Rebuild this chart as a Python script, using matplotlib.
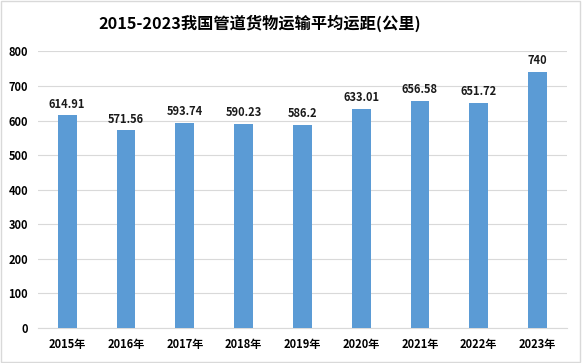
import matplotlib
matplotlib.use("Agg")
import matplotlib.pyplot as plt
from matplotlib.patches import Rectangle

plt.rcParams['font.family'] = ['Noto Sans CJK SC', 'DejaVu Sans']

years = ["2015年", "2016年", "2017年", "2018年", "2019年", "2020年", "2021年", "2022年", "2023年"]
values = [614.91, 571.56, 593.74, 590.23, 586.2, 633.01, 656.58, 651.72, 740]
labels = ["614.91", "571.56", "593.74", "590.23", "586.2", "633.01", "656.58", "651.72", "740"]
yticks = [0, 100, 200, 300, 400, 500, 600, 700, 800]

fig = plt.figure(figsize=(5.82, 3.63), dpi=100)
ax = fig.add_axes([0.065, 0.0964, 0.909, 0.762])

x = list(range(len(years)))
ax.bar(x, values, width=0.32, color="#5B9BD5", zorder=3)
for xi, v, t in zip(x, values, labels):
    ax.text(xi, v + 14, t, ha="center", va="bottom", fontsize=8, fontweight="bold", color="#1a1a1a")

ax.set_xlim(-0.5, len(years) - 0.5)
ax.set_ylim(0, 800)
ax.set_yticks(yticks)
ax.set_xticks(x)
ax.set_xticklabels(years, fontsize=8, fontweight="bold")
ax.tick_params(axis="y", labelsize=8, length=0, pad=7)
ax.tick_params(axis="x", length=0, pad=7)
for lab in ax.get_yticklabels():
    lab.set_fontweight("bold")
ax.grid(axis="y", color="#D9D9D9", linewidth=0.8, zorder=0)
for s in ["top", "right", "left"]:
    ax.spines[s].set_visible(False)
ax.spines["bottom"].set_color("#D9D9D9")

fig.text(0.447, 0.937, "2015-2023我国管道货物运输平均运距(公里)", ha="center", va="center",
         fontsize=11.7, fontweight="bold")

fig.patches.append(Rectangle((0.002, 0.003), 0.995, 0.993, transform=fig.transFigure,
                             fill=False, edgecolor="#D9D9D9", linewidth=1))

fig.savefig("out.png", dpi=100)
